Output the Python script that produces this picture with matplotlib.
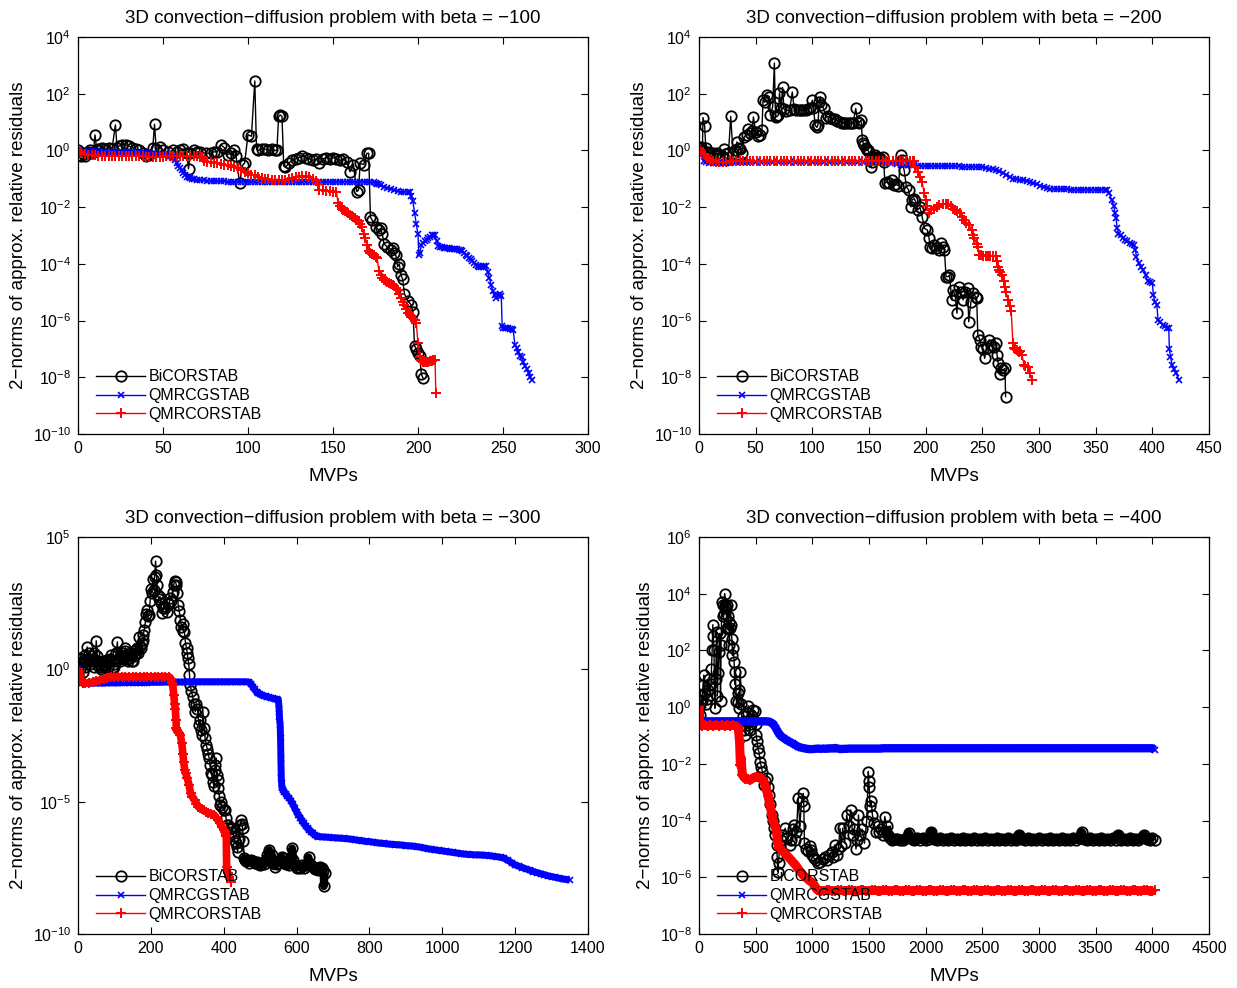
import numpy as np
import matplotlib.pyplot as plt
from matplotlib.ticker import NullLocator

plt.rcParams['font.family'] = ['Liberation Sans', 'DejaVu Sans']
plt.rcParams['mathtext.fontset'] = 'custom'
plt.rcParams['mathtext.rm'] = 'Liberation Sans'
plt.rcParams['mathtext.it'] = 'Liberation Sans:italic'
plt.rcParams['mathtext.bf'] = 'Liberation Sans:bold'

# (MVPs, log10 of relative residual)
bicor_100 = [(0, 0.0), (1, -0.15), (2, -0.2), (3, -0.1), (4, -0.2), (5, -0.1), (6, -0.05), (7, 0.0), (8, -0.1),
             (9, -0.05), (10, 0.55), (11, 0.0), (12, 0.05), (14, 0.1), (16, 0.05), (18, 0.1), (20, 0.05),
             (22, 0.9), (23, 0.1), (24, 0.15), (26, 0.2), (28, 0.2), (30, 0.15), (32, 0.1), (34, 0.05),
             (36, 0.0), (38, -0.1), (40, -0.2), (42, -0.15), (44, 0.1), (45, 0.92), (46, 0.05), (48, 0.12),
             (50, 0.0), (53, -0.05), (56, 0.0), (58, -0.05), (60, 0.0), (62, 0.05), (64, -0.1), (65, -0.65),
             (66, -0.1), (68, 0.0), (70, -0.05), (72, -0.05), (75, -0.1), (78, -0.1), (80, -0.05), (82, -0.05),
             (84, 0.2), (86, 0.1), (88, -0.15), (90, -0.1), (92, 0.0), (93, -0.2), (95, -1.15), (97, -0.5),
             (98, -0.45), (100, 0.55), (102, 0.5), (104, 2.45), (105, 0.05), (106, 0.0), (108, 0.05),
             (110, 0.05), (112, 0.0), (114, 0.05), (116, 0.0), (117, 0.0), (118, 1.2), (119, 1.25), (120, 1.2),
             (121, -0.55), (122, -0.6), (124, -0.45), (126, -0.35), (128, -0.3), (130, -0.25), (132, -0.2),
             (134, -0.25), (136, -0.3), (138, -0.35), (140, -0.3), (142, -0.45), (144, -0.3), (146, -0.25),
             (148, -0.3), (150, -0.25), (152, -0.3), (154, -0.35), (156, -0.3), (158, -0.4), (160, -0.75),
             (162, -0.5), (164, -1.45), (165, -1.4), (166, -0.45), (168, -0.5), (170, -0.1), (171, -0.1),
             (172, -2.35), (173, -2.45), (175, -2.7), (177, -2.8), (178, -2.75), (179, -2.95), (180, -3.3),
             (182, -3.4), (184, -3.5), (185, -3.45), (186, -3.6), (187, -3.7), (188, -4.1), (189, -4.0),
             (190, -4.4), (191, -4.55), (192, -5.05), (194, -5.3), (196, -5.45), (197, -5.7), (198, -6.9),
             (199, -7.0), (200, -7.15), (201, -7.25), (202, -7.9), (203, -8.03)]

qmrcg_100 = [(0, 0.0), (2, -0.05), (4, -0.05), (6, -0.03), (8, -0.03), (10, -0.03), (12, -0.04), (14, -0.04),
             (16, -0.04), (18, -0.05), (20, -0.05), (22, -0.05), (24, -0.05), (26, -0.05), (28, -0.06),
             (30, -0.06), (32, -0.06), (34, -0.07), (36, -0.08), (38, -0.09), (40, -0.1), (42, -0.1), (44, -0.1),
             (46, -0.11), (48, -0.12), (50, -0.12), (52, -0.14), (54, -0.18), (55, -0.22), (56, -0.28),
             (57, -0.35), (58, -0.45), (59, -0.55), (60, -0.62), (61, -0.7), (62, -0.8), (63, -0.88),
             (64, -0.92), (65, -0.95), (66, -0.98), (67, -1.0), (68, -1.02), (70, -1.04), (72, -1.05),
             (74, -1.06), (76, -1.07), (78, -1.08), (80, -1.08), (82, -1.09), (84, -1.09), (86, -1.09),
             (88, -1.1), (90, -1.1), (92, -1.1), (94, -1.1), (96, -1.1), (98, -1.1), (100, -1.1), (102, -1.1),
             (104, -1.1), (106, -1.1), (108, -1.1), (110, -1.1), (112, -1.1), (114, -1.1), (116, -1.1),
             (118, -1.1), (120, -1.1), (122, -1.1), (124, -1.1), (126, -1.1), (128, -1.1), (130, -1.1),
             (132, -1.1), (134, -1.1), (136, -1.1), (138, -1.1), (140, -1.1), (142, -1.1), (144, -1.1),
             (146, -1.1), (148, -1.1), (150, -1.1), (152, -1.1), (154, -1.1), (156, -1.1), (158, -1.1),
             (160, -1.1), (162, -1.1), (164, -1.1), (166, -1.1), (168, -1.1), (170, -1.1), (172, -1.11),
             (174, -1.13), (175, -1.14), (176, -1.17), (177, -1.2), (178, -1.23), (180, -1.28), (182, -1.33),
             (184, -1.37), (186, -1.4), (188, -1.44), (190, -1.45), (192, -1.46), (194, -1.47), (195, -1.48),
             (196, -1.6), (197, -1.8), (198, -2.2), (199, -2.6), (200, -2.95), (200.5, -3.7), (201, -3.6),
             (202, -3.35), (203, -3.25), (204, -3.2), (205, -3.15), (206, -3.1), (207, -3.05), (208, -3.0),
             (209, -2.99), (210, -2.98), (211, -3.2), (212, -3.38), (213, -3.4), (214, -3.42), (215, -3.44),
             (216, -3.45), (217, -3.45), (218, -3.45), (219, -3.46), (220, -3.47), (221, -3.47), (222, -3.48),
             (223, -3.49), (224, -3.5), (225, -3.52), (226, -3.55), (227, -3.6), (228, -3.68), (229, -3.73),
             (230, -3.78), (231, -3.84), (232, -3.9), (233, -3.97), (234, -4.05), (235, -4.08), (236, -4.1),
             (237, -4.1), (238, -4.1), (239, -4.09), (240, -4.08), (241, -4.3), (242, -4.5), (243, -4.75),
             (244, -4.95), (245, -5.1), (246, -5.2), (247, -5.1), (248, -5.05), (249, -5.15), (249.5, -6.2),
             (250, -6.27), (251, -6.26), (252, -6.25), (253, -6.26), (254, -6.28), (255, -6.3), (256, -6.35),
             (257, -6.85), (258, -6.95), (259, -7.1), (260, -7.25), (261, -7.3), (262, -7.45), (263, -7.6),
             (264, -7.7), (265, -7.85), (266, -8.0), (267, -8.09)]

qmrcor_100 = [(0, 0.0), (1, -0.05), (2, -0.08), (4, -0.12), (6, -0.15), (8, -0.16), (10, -0.17), (12, -0.18),
              (14, -0.18), (16, -0.18), (18, -0.19), (20, -0.19), (22, -0.2), (24, -0.2), (26, -0.2),
              (28, -0.2), (30, -0.2), (32, -0.2), (34, -0.21), (36, -0.21), (38, -0.21), (40, -0.22),
              (42, -0.22), (44, -0.22), (46, -0.22), (48, -0.22), (50, -0.22), (52, -0.21), (54, -0.2),
              (56, -0.2), (58, -0.2), (60, -0.2), (62, -0.2), (64, -0.2), (66, -0.2), (68, -0.2), (70, -0.2),
              (72, -0.21), (73, -0.22), (74, -0.38), (76, -0.4), (78, -0.42), (80, -0.44), (82, -0.46),
              (84, -0.48), (86, -0.5), (88, -0.52), (90, -0.54), (92, -0.57), (94, -0.62), (96, -0.68),
              (98, -0.75), (100, -0.8), (102, -0.85), (104, -0.88), (106, -0.92), (108, -0.96), (110, -1.0),
              (112, -1.02), (114, -1.04), (116, -1.05), (118, -1.05), (120, -1.05), (122, -1.03), (124, -1.0),
              (126, -0.98), (128, -0.95), (130, -0.93), (132, -0.9), (134, -0.9), (136, -0.93), (138, -1.0),
              (140, -1.08), (141, -1.2), (142, -1.38), (144, -1.4), (146, -1.42), (148, -1.44), (150, -1.45),
              (152, -1.47), (153, -1.85), (154, -1.95), (155, -2.05), (156, -2.1), (157, -2.15), (158, -2.18),
              (159, -2.22), (160, -2.26), (161, -2.3), (162, -2.35), (163, -2.4), (164, -2.45), (165, -2.5),
              (166, -2.6), (167, -2.7), (168, -2.95), (169, -3.1), (170, -3.35), (171, -3.55), (172, -3.6),
              (173, -3.65), (174, -3.7), (175, -3.75), (176, -3.8), (177, -4.25), (178, -4.4), (179, -4.5),
              (180, -4.57), (181, -4.61), (182, -4.65), (183, -4.68), (184, -4.7), (185, -4.74), (186, -4.78),
              (187, -4.85), (188, -4.92), (189, -5.05), (190, -5.2), (191, -5.35), (192, -5.45), (193, -5.6),
              (194, -5.72), (195, -5.8), (196, -5.86), (197, -5.92), (198, -5.98), (199, -6.1), (200, -6.8),
              (201, -7.3), (202, -7.4), (203, -7.45), (204, -7.45), (205, -7.45), (206, -7.45), (207, -7.44),
              (208, -7.42), (209, -7.4), (210, -7.38), (210.5, -8.56)]

bicor_200 = [(0, 0.07), (1, 0.0), (2, 0.13), (3, 0.0), (3.5, 1.16), (5, 0.85), (6, 0.07), (8, -0.05), (10, -0.1),
             (12, -0.08), (14, -0.15), (16, -0.1), (18, -0.15), (20, -0.2), (22, 0.04), (24, -0.12), (26, -0.1),
             (28, 1.2), (30, -0.1), (32, 0.0), (33.5, 0.3), (35, 0.1), (36, 0.05), (38, -0.08), (40, 0.48),
             (42, 0.55), (43.5, 0.77), (45, 0.6), (47, 0.7), (48, 1.18), (50, 0.65), (52, 0.5), (54, 0.55),
             (55.5, 0.71), (56.5, 1.77), (58, 1.7), (60, 1.95), (62, 1.9), (63, 1.24), (65, 1.54), (66.5, 3.08),
             (67.5, 1.18), (69, 1.2), (70, 1.24), (71, 2.03), (72.5, 1.5), (73.7, 2.22), (75, 1.45), (77, 1.4),
             (80, 1.42), (82.3, 2.06), (84, 1.45), (86, 1.42), (88, 1.42), (90, 1.42), (92, 1.42), (94, 1.42),
             (96, 1.45), (98, 1.5), (100, 1.77), (101, 1.5), (102.5, 0.89), (104, 0.81), (105, 0.9), (106, 1.7),
             (107, 1.89), (108, 1.6), (110, 1.48), (112, 1.16), (114, 1.2), (116, 1.15), (118, 1.12),
             (120, 1.1), (122, 1.05), (124, 1.0), (126, 0.98), (128, 0.97), (130, 0.96), (132, 0.96),
             (134, 0.96), (136, 0.97), (138.3, 1.48), (140, 1.0), (141, 0.98), (143, 1.07), (144.2, 0.36),
             (145, 0.25), (146, 0.18), (147, 0.1), (148, 0.02), (149, 0.0), (150, -0.05), (151, -0.3),
             (152, -0.58), (153, -0.4), (154, -0.3), (155, -0.17), (157, -0.22), (158, -0.25), (160, -0.28),
             (162, -0.22), (163, -0.4), (164, -1.16), (166, -1.1), (168, -1.15), (170, -1.05), (172, -1.22),
             (174, -1.2), (176, -1.25), (178, -0.17), (179, -0.35), (181, -0.7), (183, -1.28), (185, -1.4),
             (187, -1.99), (188, -1.75), (190, -1.7), (191, -1.8), (193, -2.1), (195, -2.0), (197, -2.36),
             (199, -2.75), (201.5, -2.81), (203, -3.1), (204, -3.39), (206, -3.45), (207, -3.33), (209, -3.45),
             (212, -3.51), (213.7, -3.28), (215, -3.4), (216.5, -3.51), (218, -4.45), (220, -4.45), (221, -4.4),
             (223, -5.27), (224, -4.92), (226, -5.1), (227.6, -5.74), (229, -4.8), (231, -5.0), (233, -5.27),
             (235, -5.0), (237, -4.86), (238, -6.04), (240, -5.33), (242, -5.04), (244, -5.16), (245, -5.2),
             (246, -6.5), (248, -6.7), (249, -6.92), (251, -7.0), (252, -7.33), (254, -6.97), (256, -6.68),
             (258, -6.85), (260, -6.92), (262, -6.8), (263, -7.2), (264, -7.5), (265.8, -7.9), (266.5, -7.68),
             (268, -7.75), (270, -7.68), (270.5, -8.68)]

qmrcg_200 = [(0, 0.0), (2, -0.15), (4, -0.38), (6, -0.42), (9, -0.44), (12, -0.45), (15, -0.45), (18, -0.45),
             (21, -0.44), (24, -0.44), (27, -0.43), (30, -0.42), (33, -0.42), (36, -0.41), (39, -0.41),
             (42, -0.4), (45, -0.4), (50, -0.4), (55, -0.4), (60, -0.4), (65, -0.4), (70, -0.4), (75, -0.4),
             (80, -0.4), (85, -0.4), (90, -0.4), (95, -0.4), (100, -0.4), (105, -0.4), (110, -0.4), (115, -0.4),
             (120, -0.4), (125, -0.4), (130, -0.4), (135, -0.4), (140, -0.4), (145, -0.4), (150, -0.4),
             (155, -0.41), (160, -0.42), (165, -0.43), (170, -0.44), (173, -0.45), (175, -0.47), (178, -0.5),
             (181, -0.52), (184, -0.52), (187, -0.53), (190, -0.53), (193, -0.54), (196, -0.54), (199, -0.54),
             (202, -0.54), (205, -0.54), (208, -0.55), (211, -0.55), (214, -0.55), (217, -0.55), (220, -0.55),
             (223, -0.56), (226, -0.56), (229, -0.56), (232, -0.57), (235, -0.57), (238, -0.58), (241, -0.58),
             (244, -0.58), (247, -0.58), (250, -0.59), (253, -0.61), (256, -0.64), (259, -0.67), (262, -0.7),
             (265, -0.73), (268, -0.78), (271, -0.85), (274, -0.95), (277, -1.0), (280, -1.02), (283, -1.04),
             (286, -1.06), (289, -1.08), (292, -1.12), (295, -1.16), (298, -1.2), (301, -1.24), (304, -1.28),
             (307, -1.32), (310, -1.35), (313, -1.36), (316, -1.37), (319, -1.37), (322, -1.37), (325, -1.37),
             (328, -1.38), (331, -1.38), (334, -1.38), (337, -1.38), (340, -1.38), (343, -1.38), (346, -1.38),
             (349, -1.38), (352, -1.38), (355, -1.38), (358, -1.38), (360, -1.38), (362, -1.5), (364, -1.75),
             (366, -1.95), (367, -2.2), (368, -2.4), (369, -2.75), (370, -2.95), (372, -3.0), (374, -3.1),
             (376, -3.15), (378, -3.2), (380, -3.28), (382, -3.3), (384, -3.35), (385, -3.5), (386, -3.75),
             (388, -3.98), (390, -4.1), (392, -4.21), (394, -4.4), (396, -4.62), (398, -4.65), (400, -4.69),
             (401, -5.1), (402, -5.33), (404, -5.45), (405, -5.98), (407, -6.05), (409, -6.15), (411, -6.2),
             (413, -6.25), (414.5, -6.27), (415, -7.0), (416, -7.27), (417.5, -7.57), (419, -7.7), (421, -7.86),
             (423.6, -8.09)]

qmrcor_200 = [(0, 0.07), (1, 0.0), (2, -0.05), (4, -0.12), (5, -0.17), (7, -0.25), (8, -0.28), (10, -0.33),
              (12, -0.37), (15, -0.4), (18, -0.42), (21, -0.41), (24, -0.4), (27, -0.39), (30, -0.39),
              (33, -0.38), (36, -0.38), (39, -0.38), (42, -0.37), (45, -0.37), (48, -0.37), (51, -0.37),
              (54, -0.37), (57, -0.37), (60, -0.37), (63, -0.37), (66, -0.37), (69, -0.37), (72, -0.37),
              (75, -0.37), (78, -0.37), (81, -0.37), (84, -0.37), (87, -0.37), (90, -0.37), (93, -0.36),
              (96, -0.36), (99, -0.36), (102, -0.36), (105, -0.36), (108, -0.36), (111, -0.36), (114, -0.36),
              (117, -0.36), (120, -0.36), (123, -0.36), (126, -0.36), (129, -0.36), (132, -0.36), (135, -0.36),
              (138, -0.36), (141, -0.36), (144, -0.36), (147, -0.36), (150, -0.36), (153, -0.36), (156, -0.36),
              (159, -0.36), (162, -0.36), (165, -0.36), (168, -0.36), (171, -0.36), (174, -0.36), (177, -0.36),
              (180, -0.36), (183, -0.36), (186, -0.36), (189, -0.36), (190, -0.37), (191, -0.58), (193, -0.75),
              (195, -0.95), (196.7, -1.1), (198.7, -1.49), (200, -1.75), (201, -1.95), (203, -2.22), (205, -2.1),
              (207, -2.05), (210, -1.99), (212, -1.93), (215, -1.89), (218, -1.88), (220, -1.89), (222, -1.95),
              (224, -2.05), (226, -2.1), (228, -2.15), (230, -2.22), (232, -2.35), (234, -2.46), (236, -2.55),
              (238, -2.63), (240.8, -2.81), (242, -3.0), (243, -3.1), (245, -3.3), (246, -3.39), (247.4, -3.69),
              (249, -3.7), (251, -3.72), (253, -3.72), (255, -3.72), (257, -3.72), (259, -3.72), (262, -3.72),
              (263, -3.9), (264, -4.1), (265, -4.2), (266, -4.3), (267.5, -4.39), (269, -4.6), (270, -4.8),
              (271, -5.0), (272.5, -5.27), (274, -5.5), (275.5, -5.68), (277, -6.8), (278, -6.95), (279, -7.0),
              (280.7, -7.03), (282, -7.1), (283, -7.09), (285, -7.2), (286.7, -7.57), (288, -7.6), (290, -7.62),
              (292, -7.86), (293.6, -8.09)]

bicor_300 = [(0, -0.22), (3, 0.4), (5, 0.41), (8, 0.1), (10, 0.2), (13, -0.1), (15, 0.3), (18, 0.1), (20, 0.53),
             (23, 0.3), (25, 0.85), (28, 0.4), (30, 0.6), (33, 0.2), (35, 0.5), (38, 0.3), (40, 0.4), (43, 0.1),
             (45, 0.6), (48, 0.3), (50, 1.08), (53, 0.5), (55, 0.3), (58, 0.1), (60, 0.2), (63, 0.0), (65, 0.1),
             (68, 0.3), (70, 0.16), (73, 0.2), (75, 0.1), (78, 0.3), (80, 0.35), (83, 0.1), (85, 0.3), (88, 0.4),
             (90, 0.53), (93, 0.3), (95, 0.1), (98, 0.2), (100, 0.1), (103, 0.3), (105, 0.6), (108, 1.04),
             (110, 0.6), (113, 0.4), (115, 0.3), (118, 0.5), (120, 0.41), (123, 0.6), (125, 0.5), (128, 0.7),
             (130, 0.81), (133, 0.5), (135, 0.4), (138, 0.3), (140, 0.41), (143, 0.6), (145, 0.5), (148, 0.3),
             (150, 0.3), (153, 0.5), (155, 0.7), (158, 0.6), (160, 0.72), (163, 0.8), (165, 0.6), (168, 1.23),
             (170, 0.9), (173, 0.8), (175, 1.0), (178, 1.1), (179, 1.29), (182, 1.5), (185, 1.79), (188, 2.1),
             (190, 2.23), (192, 2.0), (195, 2.05), (198, 2.6), (200, 3.03), (203, 2.9), (206, 3.43), (208, 3.0),
             (210, 3.5), (213, 4.09), (215, 3.55), (217, 3.2), (219, 2.8), (222, 2.67), (225, 2.75), (228, 2.5),
             (231, 2.11), (234, 2.3), (237, 2.4), (240, 2.3), (244, 2.15), (247, 2.5), (250, 2.45), (253, 2.7),
             (256, 2.6), (260, 2.92), (263, 3.2), (265, 3.34), (268, 3.3), (270, 3.18), (273, 2.9), (275, 2.42),
             (278, 2.2), (281, 1.86), (284, 1.6), (287, 1.7), (289, 1.45), (292, 1.42), (295, 1.0), (298, 0.79),
             (300, 0.6), (302, 0.41), (304, 0.2), (306, -0.22), (308, -0.6), (311, -0.8), (315, -1.04),
             (318, -1.3), (322, -1.6), (325, -1.3), (328, -1.5), (332, -2.11), (335, -1.9), (338, -2.3),
             (340, -2.5), (343, -1.6), (346, -2.2), (349, -2.6), (352, -2.86), (355, -3.0), (358, -3.2),
             (360, -3.36), (363, -3.6), (366, -3.9), (368, -4.0), (370, -4.25), (373, -4.4), (375, -3.8),
             (377, -3.6), (379, -3.35), (381, -4.0), (383, -4.2), (385, -4.5), (388, -4.8), (390, -5.13),
             (393, -5.0), (396, -5.2), (400, -5.31), (403, -5.3), (406, -5.6), (410, -5.88), (413, -5.9),
             (416, -6.05), (420, -6.13), (424, -6.0), (427, -6.3), (430, -6.5), (433, -6.55), (436, -6.7),
             (438, -6.89), (441, -6.4), (444, -5.9), (447, -5.69), (450, -5.85), (452, -6.0), (454, -6.5),
             (456, -7.14), (458, -7.2), (460, -7.26), (465, -7.2), (470, -7.3), (475, -7.22), (480, -7.25),
             (485, -7.3), (490, -7.28), (495, -7.35), (500, -7.39), (505, -7.3), (510, -7.35), (515, -7.2),
             (520, -7.0), (525, -6.82), (528, -7.1), (532, -7.0), (536, -7.3), (540, -7.45), (545, -7.35),
             (550, -7.3), (555, -7.2), (560, -7.1), (563, -7.14), (566, -7.3), (570, -7.35), (575, -7.3),
             (580, -7.4), (585, -7.1), (588, -6.76), (591, -7.2), (595, -7.4), (600, -7.5), (605, -7.45),
             (610, -7.5), (615, -7.4), (620, -7.52), (625, -7.4), (630, -7.3), (633, -7.1), (637, -7.35),
             (640, -7.4), (645, -7.45), (650, -7.55), (655, -7.5), (660, -7.6), (665, -7.45), (670, -7.5),
             (673, -7.6), (675, -8.2), (678, -7.7)]

qmrcg_300 = [(0, 0.0), (3, -0.3), (5, -0.47), (10, -0.5), (20, -0.53), (30, -0.53), (40, -0.52), (50, -0.52),
             (60, -0.52), (70, -0.52), (80, -0.51), (90, -0.51), (100, -0.51), (110, -0.51), (120, -0.5),
             (130, -0.5), (140, -0.5), (150, -0.5), (160, -0.5), (170, -0.5), (180, -0.5), (190, -0.5),
             (200, -0.49), (210, -0.49), (220, -0.49), (230, -0.49), (240, -0.48), (250, -0.48), (260, -0.48),
             (270, -0.48), (280, -0.48), (290, -0.48), (300, -0.47), (310, -0.47), (320, -0.47), (330, -0.47),
             (340, -0.47), (350, -0.47), (360, -0.47), (370, -0.47), (380, -0.47), (390, -0.47), (400, -0.47),
             (410, -0.47), (420, -0.47), (430, -0.47), (440, -0.47), (450, -0.47), (460, -0.47), (470, -0.48),
             (475, -0.55), (480, -0.66), (485, -0.76), (490, -0.85), (495, -0.9), (500, -0.95), (505, -0.98),
             (510, -1.0), (515, -1.02), (520, -1.04), (525, -1.06), (530, -1.08), (535, -1.1), (540, -1.12),
             (545, -1.13), (550, -1.15), (552, -1.48), (553, -1.8), (555, -2.11), (556, -2.6), (557, -3.36),
             (558, -4.12), (559, -4.3), (560, -4.5), (563, -4.55), (566, -4.62), (570, -4.7), (575, -4.8),
             (580, -4.87), (585, -4.98), (590, -5.1), (595, -5.25), (600, -5.38), (605, -5.5), (610, -5.6),
             (615, -5.72), (620, -5.82), (625, -5.92), (630, -6.0), (635, -6.08), (640, -6.13), (645, -6.2),
             (650, -6.26), (655, -6.3), (660, -6.32), (670, -6.33), (680, -6.34), (690, -6.35), (700, -6.36),
             (710, -6.37), (720, -6.38), (730, -6.39), (740, -6.4), (750, -6.42), (760, -6.44), (770, -6.46),
             (780, -6.48), (790, -6.5), (800, -6.51), (810, -6.53), (820, -6.55), (830, -6.57), (840, -6.58),
             (850, -6.6), (860, -6.61), (870, -6.62), (880, -6.63), (890, -6.64), (900, -6.66), (910, -6.67),
             (920, -6.68), (930, -6.7), (940, -6.72), (950, -6.75), (960, -6.78), (970, -6.8), (980, -6.82),
             (990, -6.84), (1000, -6.86), (1010, -6.88), (1020, -6.9), (1030, -6.92), (1040, -6.94),
             (1050, -6.96), (1060, -6.98), (1070, -6.99), (1080, -7.0), (1090, -7.01), (1100, -7.01),
             (1110, -7.02), (1120, -7.03), (1130, -7.04), (1140, -7.06), (1150, -7.08), (1160, -7.1),
             (1170, -7.14), (1180, -7.22), (1190, -7.3), (1200, -7.39), (1210, -7.44), (1220, -7.49),
             (1230, -7.54), (1240, -7.59), (1250, -7.64), (1260, -7.68), (1270, -7.72), (1280, -7.76),
             (1290, -7.8), (1300, -7.83), (1310, -7.86), (1320, -7.89), (1330, -7.92), (1340, -7.94),
             (1350, -7.96)]

qmrcor_300 = [(0, 0.0), (3, -0.09), (5, -0.22), (8, -0.4), (10, -0.47), (15, -0.52), (20, -0.53), (30, -0.5),
              (40, -0.48), (50, -0.44), (60, -0.41), (70, -0.36), (80, -0.32), (90, -0.3), (100, -0.29),
              (110, -0.28), (120, -0.28), (130, -0.28), (140, -0.28), (150, -0.28), (160, -0.28), (170, -0.28),
              (180, -0.28), (190, -0.28), (200, -0.28), (210, -0.28), (220, -0.28), (230, -0.28), (240, -0.28),
              (250, -0.28), (255, -0.35), (258, -0.5), (260, -0.6), (263, -0.97), (265, -1.3), (267, -1.48),
              (269, -1.9), (270, -2.23), (273, -2.3), (275, -2.36), (278, -2.42), (281, -2.48), (285, -2.8),
              (288, -3.2), (290, -3.49), (293, -3.8), (296, -3.93), (300, -4.12), (305, -4.37), (309, -4.69),
              (314, -4.82), (320, -4.94), (325, -5.07), (330, -5.19), (335, -5.24), (340, -5.29), (345, -5.33),
              (352, -5.38), (358, -5.42), (365, -5.46), (373, -5.5), (378, -5.58), (384, -5.7), (390, -5.82),
              (395, -5.95), (400, -6.07), (403, -6.16), (406, -6.26), (407, -6.3), (408, -7.45), (411, -7.7),
              (415, -7.85), (420, -8.02)]

bicor_400 = [(0, -0.04), (10, -0.28), (20, 0.42), (30, 0.2), (35, 0.78), (42, 1.13), (50, 0.5), (60, 0.1),
             (70, 0.3), (80, 0.6), (87, 1.01), (97, 0.42), (105, 0.8), (110, 1.36), (116, 2.0), (122, 2.91),
             (127, 2.5), (132, 2.01), (140, -0.04), (147, 1.0), (156, 2.65), (162, 0.4), (168, 1.2), (174, 1.95),
             (182, 2.6), (190, 0.2), (195, 2.2), (201, 3.71), (208, 3.2), (215, 3.59), (221, 3.3), (226, 4.0),
             (233, 3.6), (240, 3.48), (245, 2.8), (250, 3.59), (256, 3.2), (260, 2.77), (265, 3.0), (268, 2.19),
             (273, 2.8), (278, 3.59), (284, 2.9), (290, 2.4), (295, 1.83), (302, 2.1), (310, 1.6), (315, 0.8),
             (320, 1.25), (330, 0.2), (340, 0.19), (347, 0.5), (350, -0.04), (356, 0.6), (365, 1.25), (372, 0.1),
             (380, -0.63), (390, -0.3), (400, -0.8), (410, -0.98), (420, -0.5), (428, -0.2), (434, 0.05),
             (440, -0.5), (450, -0.8), (460, -0.6), (470, -0.3), (480, -0.1), (493, -0.14), (500, -0.6),
             (504, -0.98), (512, -1.2), (520, -1.45), (530, -1.6), (540, -1.92), (550, -2.1), (560, -2.3),
             (573, -2.74), (585, -2.6), (600, -2.5), (610, -2.8), (618, -3.1), (630, -3.4), (643, -3.8),
             (652, -4.0), (660, -4.27), (670, -4.5), (684, -4.86), (690, -5.3), (695, -5.8), (702, -5.5),
             (712, -4.86), (725, -4.7), (740, -4.5), (760, -4.27), (780, -4.6), (800, -4.86), (815, -4.7),
             (830, -4.3), (841, -4.15), (850, -4.7), (860, -4.4), (875, -3.19), (890, -4.2), (905, -3.3),
             (920, -3.04), (925, -3.5), (930, -4.8), (945, -5.0), (966, -5.09), (978, -4.9), (990, -5.05),
             (1000, -5.2), (1015, -5.33), (1030, -5.4), (1050, -5.5), (1070, -5.45), (1090, -5.35),
             (1112, -5.3), (1130, -5.4), (1150, -5.2), (1170, -5.1), (1185, -5.3), (1199, -4.86), (1215, -5.2),
             (1230, -5.0), (1244, -4.27), (1255, -4.9), (1268, -4.27), (1285, -4.8), (1303, -3.8), (1320, -4.2),
             (1338, -3.62), (1355, -4.5), (1370, -4.3), (1385, -5.0), (1395, -4.7), (1407, -3.8), (1420, -4.5),
             (1440, -4.3), (1460, -4.8), (1480, -4.0), (1494, -2.27), (1498, -2.6), (1501, -2.8), (1510, -3.5),
             (1520, -3.3), (1530, -3.8), (1545, -4.1), (1560, -4.39), (1575, -4.2), (1590, -4.4), (1605, -4.3),
             (1620, -4.5), (1640, -3.86), (1655, -4.2), (1670, -4.5), (1685, -4.62), (1700, -4.7),
             (1725, -4.66), (1750, -4.64), (1775, -4.7), (1800, -4.68), (1825, -4.62), (1850, -4.45),
             (1875, -4.66), (1900, -4.7), (1925, -4.63), (1950, -4.67), (1975, -4.61), (2000, -4.69),
             (2025, -4.64), (2050, -4.39), (2075, -4.66), (2100, -4.7), (2125, -4.62), (2150, -4.68),
             (2175, -4.64), (2200, -4.7), (2225, -4.61), (2250, -4.67), (2275, -4.64), (2300, -4.69),
             (2325, -4.62), (2350, -4.68), (2375, -4.65), (2400, -4.7), (2425, -4.62), (2450, -4.67),
             (2475, -4.64), (2500, -4.69), (2525, -4.61), (2550, -4.67), (2575, -4.64), (2600, -4.7),
             (2625, -4.62), (2650, -4.68), (2675, -4.65), (2700, -4.69), (2725, -4.62), (2750, -4.67),
             (2775, -4.64), (2800, -4.7), (2825, -4.5), (2850, -4.66), (2875, -4.69), (2900, -4.62),
             (2925, -4.68), (2950, -4.64), (2975, -4.7), (3000, -4.62), (3025, -4.67), (3050, -4.64),
             (3075, -4.69), (3100, -4.61), (3125, -4.67), (3150, -4.64), (3175, -4.7), (3200, -4.62),
             (3225, -4.68), (3250, -4.65), (3275, -4.69), (3300, -4.62), (3325, -4.67), (3350, -4.6),
             (3375, -4.42), (3400, -4.66), (3425, -4.7), (3450, -4.62), (3475, -4.68), (3500, -4.64),
             (3525, -4.7), (3550, -4.62), (3575, -4.67), (3600, -4.64), (3625, -4.69), (3650, -4.61),
             (3675, -4.67), (3700, -4.5), (3725, -4.68), (3750, -4.64), (3775, -4.7), (3800, -4.62),
             (3825, -4.68), (3850, -4.65), (3875, -4.69), (3900, -4.62), (3925, -4.5), (3950, -4.66),
             (3975, -4.7), (4000, -4.63), (4020, -4.67)]

qmrcg_400 = [(0, -0.04), (10, -0.4), (30, -0.48), (50, -0.51), (75, -0.5), (100, -0.5), (125, -0.5), (150, -0.5),
             (175, -0.5), (200, -0.5), (225, -0.5), (250, -0.5), (275, -0.5), (300, -0.5), (325, -0.5),
             (350, -0.5), (375, -0.5), (400, -0.5), (425, -0.5), (450, -0.5), (475, -0.5), (500, -0.5),
             (525, -0.5), (550, -0.5), (575, -0.5), (600, -0.5), (625, -0.52), (650, -0.58), (660, -0.63),
             (675, -0.72), (695, -0.87), (710, -0.95), (725, -1.03), (750, -1.1), (775, -1.17), (799, -1.22),
             (825, -1.28), (851, -1.34), (875, -1.39), (903, -1.43), (925, -1.45), (950, -1.47), (975, -1.48),
             (1000, -1.48), (1025, -1.47), (1050, -1.46), (1075, -1.47), (1100, -1.46), (1125, -1.47),
             (1150, -1.45), (1175, -1.46), (1200, -1.44), (1225, -1.46), (1250, -1.48), (1275, -1.47),
             (1300, -1.47), (1325, -1.46), (1350, -1.46), (1375, -1.46), (1400, -1.46), (1425, -1.46),
             (1450, -1.46), (1475, -1.46), (1500, -1.46), (1525, -1.46), (1550, -1.46), (1575, -1.46),
             (1600, -1.46), (1625, -1.45), (1650, -1.45), (1675, -1.45), (1700, -1.45), (1725, -1.45),
             (1750, -1.45), (1775, -1.45), (1800, -1.45), (1825, -1.45), (1850, -1.45), (1875, -1.45),
             (1900, -1.45), (1925, -1.45), (1950, -1.45), (1975, -1.45), (2000, -1.45), (2025, -1.45),
             (2050, -1.45), (2075, -1.45), (2100, -1.45), (2125, -1.45), (2150, -1.45), (2175, -1.45),
             (2200, -1.45), (2225, -1.45), (2250, -1.45), (2275, -1.45), (2300, -1.45), (2325, -1.45),
             (2350, -1.45), (2375, -1.45), (2400, -1.45), (2425, -1.45), (2450, -1.45), (2475, -1.45),
             (2500, -1.45), (2525, -1.45), (2550, -1.45), (2575, -1.45), (2600, -1.45), (2625, -1.45),
             (2650, -1.45), (2675, -1.45), (2700, -1.45), (2725, -1.45), (2750, -1.45), (2775, -1.45),
             (2800, -1.45), (2825, -1.45), (2850, -1.45), (2875, -1.45), (2900, -1.45), (2925, -1.45),
             (2950, -1.45), (2975, -1.45), (3000, -1.45), (3025, -1.45), (3050, -1.45), (3075, -1.45),
             (3100, -1.45), (3125, -1.45), (3150, -1.45), (3175, -1.45), (3200, -1.45), (3225, -1.45),
             (3250, -1.45), (3275, -1.45), (3300, -1.45), (3325, -1.45), (3350, -1.45), (3375, -1.45),
             (3400, -1.45), (3425, -1.45), (3450, -1.45), (3475, -1.45), (3500, -1.45), (3525, -1.45),
             (3550, -1.45), (3575, -1.45), (3600, -1.45), (3625, -1.45), (3650, -1.45), (3675, -1.45),
             (3700, -1.45), (3725, -1.45), (3750, -1.45), (3775, -1.45), (3800, -1.45), (3825, -1.45),
             (3850, -1.45), (3875, -1.45), (3900, -1.45), (3925, -1.45), (3950, -1.45), (3975, -1.45),
             (4000, -1.45), (4020, -1.5)]

qmrcor_400 = [(0, 0.01), (5, -0.57), (20, -0.63), (25, -0.65), (50, -0.63), (75, -0.66), (100, -0.64),
              (125, -0.66), (150, -0.63), (175, -0.65), (200, -0.64), (225, -0.66), (250, -0.63), (275, -0.65),
              (300, -0.64), (325, -0.66), (347, -0.75), (358, -1.22), (365, -2.04), (372, -1.8), (382, -2.39),
              (395, -2.45), (410, -2.53), (430, -2.55), (452, -2.57), (475, -2.5), (504, -2.45), (520, -2.47),
              (539, -2.5), (555, -2.55), (573, -2.63), (590, -2.86), (608, -3.1), (625, -3.45), (643, -3.8),
              (655, -4.0), (667, -4.15), (684, -4.39), (695, -4.8), (710, -4.95), (730, -5.05), (758, -5.15),
              (780, -5.25), (799, -5.33), (825, -5.45), (851, -5.56), (875, -5.7), (903, -5.85), (925, -5.95),
              (950, -6.03), (975, -6.12), (1007, -6.21), (1025, -6.33), (1042, -6.44), (1050, -6.46),
              (1075, -6.48), (1100, -6.47), (1125, -6.46), (1150, -6.46), (1175, -6.48), (1200, -6.48),
              (1225, -6.46), (1250, -6.46), (1275, -6.48), (1300, -6.47), (1325, -6.46), (1350, -6.46),
              (1375, -6.48), (1400, -6.48), (1425, -6.46), (1450, -6.46), (1475, -6.48), (1500, -6.47),
              (1525, -6.46), (1550, -6.46), (1575, -6.48), (1600, -6.48), (1625, -6.46), (1650, -6.46),
              (1675, -6.48), (1700, -6.47), (1725, -6.46), (1750, -6.46), (1775, -6.48), (1800, -6.48),
              (1825, -6.46), (1850, -6.46), (1875, -6.48), (1900, -6.47), (1925, -6.46), (1950, -6.46),
              (1975, -6.48), (2000, -6.48), (2025, -6.46), (2050, -6.46), (2075, -6.48), (2100, -6.47),
              (2125, -6.46), (2150, -6.46), (2175, -6.48), (2200, -6.48), (2225, -6.46), (2250, -6.46),
              (2275, -6.48), (2300, -6.47), (2325, -6.46), (2350, -6.46), (2375, -6.48), (2400, -6.48),
              (2425, -6.46), (2450, -6.46), (2475, -6.48), (2500, -6.47), (2525, -6.46), (2550, -6.46),
              (2575, -6.48), (2600, -6.48), (2625, -6.46), (2650, -6.46), (2675, -6.48), (2700, -6.47),
              (2725, -6.46), (2750, -6.46), (2775, -6.48), (2800, -6.48), (2825, -6.46), (2850, -6.46),
              (2875, -6.48), (2900, -6.47), (2925, -6.46), (2950, -6.46), (2975, -6.48), (3000, -6.48),
              (3025, -6.46), (3050, -6.46), (3075, -6.48), (3100, -6.47), (3125, -6.46), (3150, -6.46),
              (3175, -6.48), (3200, -6.48), (3225, -6.46), (3250, -6.46), (3275, -6.48), (3300, -6.47),
              (3325, -6.46), (3350, -6.46), (3375, -6.48), (3400, -6.48), (3425, -6.46), (3450, -6.46),
              (3475, -6.48), (3500, -6.47), (3525, -6.46), (3550, -6.46), (3575, -6.48), (3600, -6.48),
              (3625, -6.46), (3650, -6.46), (3675, -6.48), (3700, -6.47), (3725, -6.46), (3750, -6.46),
              (3775, -6.48), (3800, -6.48), (3825, -6.46), (3850, -6.46), (3875, -6.48), (3900, -6.47),
              (3925, -6.46), (3950, -6.46), (3975, -6.48), (4000, -6.48), (4020, -6.45)]

betas = [-100, -200, -300, -400]
labels = ['BiCORSTAB', 'QMRCGSTAB', 'QMRCORSTAB']
xticks = [list(range(0, 301, 50)), list(range(0, 451, 50)), list(range(0, 1401, 200)), list(range(0, 4501, 500))]
ydecades = [list(range(-10, 5, 2)), list(range(-10, 5, 2)), [-10, -5, 0, 5], list(range(-8, 7, 2))]
data = [(bicor_100, qmrcg_100, qmrcor_100), (bicor_200, qmrcg_200, qmrcor_200),
        (bicor_300, qmrcg_300, qmrcor_300), (bicor_400, qmrcg_400, qmrcor_400)]

styles = [dict(color='black', marker='o', ms=7.5, mew=1.3, mfc='none'),
          dict(color='blue', marker='x', ms=5, mew=1.2),
          dict(color='red', marker='+', ms=7, mew=1.4)]

# where the original markers sit one per MVP they merge into a solid band;
# (start MVP, band width in points) per series, None where markers stay apart
bands = [(None, None, None), (None, None, None),
         ((455, 5.5), (0, 5.0), (0, 5.5)),
         ((1650, 6.5), (0, 6.0), (0, 6.5))]

# axes boxes in pixels: left, top, right, bottom
boxes = [(78, 37, 588, 434), (699, 37, 1209, 434), (78, 537, 588, 934), (699, 537, 1209, 934)]
W, H = 1237, 988

fig = plt.figure(figsize=(W / 100, H / 100), dpi=100)

for i in range(4):
    l, t, r, b = boxes[i]
    ax = fig.add_axes([l / W, 1 - b / H, (r - l) / W, (b - t) / H])
    for pts, st, lab, band in zip(data[i], styles, labels, bands[i]):
        x = [p[0] for p in pts]
        y = [10.0 ** p[1] for p in pts]
        if band is not None:
            xb = [p[0] for p in pts if p[0] >= band[0]]
            yb = [10.0 ** p[1] for p in pts if p[0] >= band[0]]
            ax.semilogy(xb, yb, color=st['color'], lw=band[1], solid_joinstyle='round',
                        solid_capstyle='butt')
        ax.semilogy(x, y, lw=1.0, label=lab, **st)
    ax.set_xlim(xticks[i][0], xticks[i][-1])
    ax.set_ylim(10.0 ** ydecades[i][0], 10.0 ** ydecades[i][-1])
    ax.set_xticks(xticks[i])
    ax.set_yticks([10.0 ** k for k in ydecades[i]])
    ax.yaxis.set_minor_locator(NullLocator())
    ax.tick_params(direction='in', top=True, right=True, length=5, width=0.8, labelsize=11.5, pad=5)
    for sp in ax.spines.values():
        sp.set_linewidth(0.9)
    ax.set_title('3D convection\u2212diffusion problem with beta = \u2212%d' % abs(betas[i]),
                 fontsize=13.5, pad=10)
    ax.set_xlabel('MVPs', fontsize=13.5, labelpad=9)
    ax.set_ylabel('2\u2212norms of approx. relative residuals', fontsize=13.5, labelpad=4)
    ax.legend(loc='lower left', bbox_to_anchor=(0.035, 0.03), frameon=False, fontsize=11.5,
              handlelength=3.1, handletextpad=0.2, labelspacing=0.25, numpoints=1, borderpad=0,
              borderaxespad=0)

fig.savefig('out.png', dpi=100)
